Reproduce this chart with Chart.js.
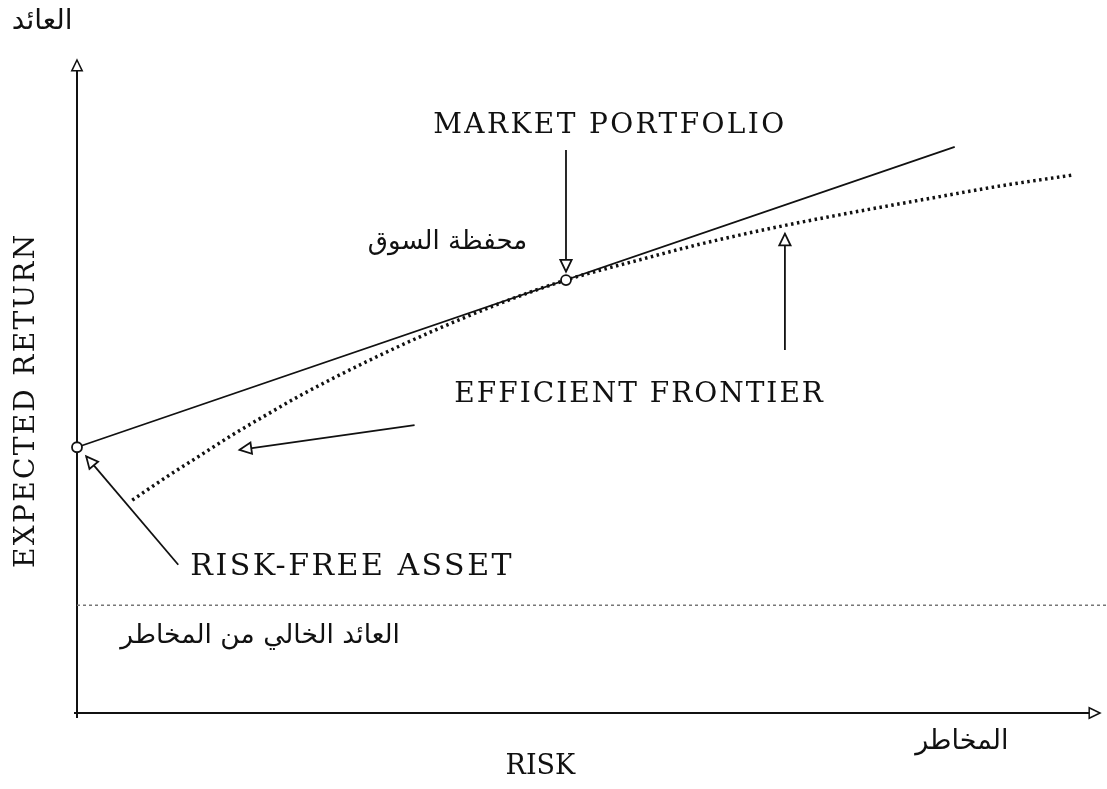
<!DOCTYPE html>
<html>
<head>
<meta charset="utf-8">
<script src="https://cdn.jsdelivr.net/npm/chart.js@4"></script>
<style>
  body { margin: 0; background: #fff; }
  canvas { display: block; }
</style>
</head>
<body>
<canvas id="chartCanvas" width="1107" height="789"></canvas>
<script>
// Capital market line diagram (risk vs expected return)
const frontierRisk    = [5.4, 8.8, 12.0, 15.2, 18.9, 21.8, 28.3, 34.8, 41.3, 47.8, 55.0, 60.9, 69.0, 75.6, 83.7, 90.2, 97.4];
const frontierReturn  = [32.6, 36.2, 39.4, 42.6, 46.0, 48.6, 53.8, 58.5, 62.7, 66.3, 69.4, 71.8, 74.6, 76.6, 78.9, 80.7, 82.4];
const cmlRisk   = [0, 85.8];
const cmlReturn = [40.7, 86.7];
const pointRisk   = [0, 47.8];      // risk-free asset, market portfolio
const pointReturn = [40.7, 66.3];
const riskFreeLevel = 16.5;

window.onload = function() {
    const ctx = document.getElementById('chartCanvas').getContext('2d');

    const toXY = (xs, ys) => xs.map((x, i) => ({ x: x, y: ys[i] }));

    // annotations in data units
    const texts = [
        { t: 'MARKET PORTFOLIO', x: 52.1, y: 90.0, font: '28px "DejaVu Serif"', sp: '2.4px', align: 'center' },
        { t: 'EFFICIENT FRONTIER', x: 55.0, y: 48.7, font: '28px "DejaVu Serif"', sp: '2px', align: 'center' },
        { t: 'RISK-FREE ASSET', x: 26.9, y: 22.4, font: '30px "DejaVu Serif"', sp: '2.5px', align: 'center' },
        { t: 'RISK', x: 45.3, y: -8.3, font: '27px "DejaVu Serif"', sp: '0px', align: 'center' },
        { t: 'محفظة السوق', x: 44.0, y: 72.1, font: '26px "DejaVu Sans"', sp: '0px', align: 'right' },
        { t: 'العائد الخالي من المخاطر', x: 17.9, y: 11.8, font: '26.5px "DejaVu Sans"', sp: '0px', align: 'center' },
        { t: 'المخاطر', x: 86.5, y: -4.4, font: '27px "DejaVu Sans"', sp: '0px', align: 'center' },
        { t: 'العائد', x: -3.4, y: 105.8, font: '28px "DejaVu Sans"', sp: '0px', align: 'center' }
    ];
    const arrows = [
        { from: [47.8, 86.2], to: [47.8, 67.6] },
        { from: [33.0, 44.1], to: [15.9, 40.3] },
        { from: [69.2, 55.6], to: [69.2, 73.4] },
        { from: [9.9, 22.7], to: [0.9, 39.3] }
    ];

    function arrowHead(c, x1, y1, x2, y2, size) {
        const a = Math.atan2(y2 - y1, x2 - x1);
        c.beginPath();
        c.moveTo(x2, y2);
        c.lineTo(x2 - size * Math.cos(a - 0.45), y2 - size * Math.sin(a - 0.45));
        c.lineTo(x2 - size * Math.cos(a + 0.45), y2 - size * Math.sin(a + 0.45));
        c.closePath();
        c.fillStyle = '#fff';
        c.fill();
        c.stroke();
    }

    const diagramPlugin = {
        id: 'diagram',
        beforeDatasetsDraw(chart) {
            const c = chart.ctx;
            const xs = chart.scales.x, ys = chart.scales.y;
            const x0 = xs.getPixelForValue(0), y0 = ys.getPixelForValue(0);
            const yTop = ys.getPixelForValue(100), xEnd = xs.getPixelForValue(100);
            c.save();
            c.strokeStyle = '#111';
            c.lineWidth = 2;
            c.beginPath();
            c.moveTo(x0, y0 + 5);
            c.lineTo(x0, yTop + 8);
            c.moveTo(x0 - 3, y0);
            c.lineTo(xEnd - 6, y0);
            c.stroke();
            c.lineWidth = 1.5;
            arrowHead(c, x0, y0, x0, yTop, 12);
            arrowHead(c, x0, y0, xEnd, y0, 12);
            c.restore();
        },
        afterDatasetsDraw(chart) {
            const c = chart.ctx;
            const xs = chart.scales.x, ys = chart.scales.y;
            c.save();
            c.strokeStyle = '#111';
            c.lineWidth = 1.8;
            arrows.forEach(a => {
                const x1 = xs.getPixelForValue(a.from[0]), y1 = ys.getPixelForValue(a.from[1]);
                const x2 = xs.getPixelForValue(a.to[0]), y2 = ys.getPixelForValue(a.to[1]);
                c.beginPath();
                c.moveTo(x1, y1);
                c.lineTo(x2, y2);
                c.stroke();
                arrowHead(c, x1, y1, x2, y2, 13);
            });
            c.fillStyle = '#111';
            c.textBaseline = 'middle';
            texts.forEach(t => {
                c.font = t.font;
                c.letterSpacing = t.sp;
                c.textAlign = t.align;
                c.fillText(t.t, xs.getPixelForValue(t.x), ys.getPixelForValue(t.y));
            });
            // y axis title, rotated
            c.save();
            c.translate(xs.getPixelForValue(-4.9), ys.getPixelForValue(47.9));
            c.rotate(-Math.PI / 2);
            c.font = '28px "DejaVu Serif"';
            c.letterSpacing = '2.3px';
            c.textAlign = 'center';
            c.fillText('EXPECTED RETURN', 0, 0);
            c.restore();
            c.restore();
        }
    };

    new Chart(ctx, {
        type: 'scatter',
        data: {
            datasets: [
                {
                    label: 'points',
                    data: toXY(pointRisk, pointReturn),
                    pointRadius: 5,
                    pointBackgroundColor: '#fff',
                    pointBorderColor: '#111',
                    pointBorderWidth: 1.8,
                    showLine: false,
                    clip: false
                },
                {
                    label: 'CML',
                    data: toXY(cmlRisk, cmlReturn),
                    showLine: true,
                    borderColor: '#111',
                    borderWidth: 1.8,
                    pointRadius: 0,
                    clip: false
                },
                {
                    label: 'Efficient frontier',
                    data: toXY(frontierRisk, frontierReturn),
                    showLine: true,
                    borderColor: '#111',
                    borderWidth: 3.5,
                    borderDash: [2.5, 3.5],
                    cubicInterpolationMode: 'monotone',
                    pointRadius: 0,
                    clip: false
                },
                {
                    label: 'risk-free level',
                    data: [{ x: 0, y: riskFreeLevel }, { x: 100.7, y: riskFreeLevel }],
                    showLine: true,
                    borderColor: '#777',
                    borderWidth: 1.3,
                    borderDash: [3, 3],
                    pointRadius: 0,
                    clip: false
                }
            ]
        },
        options: {
            responsive: false,
            animation: false,
            layout: { padding: { left: 77, right: 7, top: 60, bottom: 76 } },
            scales: {
                x: { type: 'linear', min: 0, max: 100, display: false },
                y: { type: 'linear', min: 0, max: 100, display: false }
            },
            plugins: {
                legend: { display: false },
                tooltip: { enabled: false }
            }
        },
        plugins: [diagramPlugin]
    });
};
</script>
</body>
</html>
